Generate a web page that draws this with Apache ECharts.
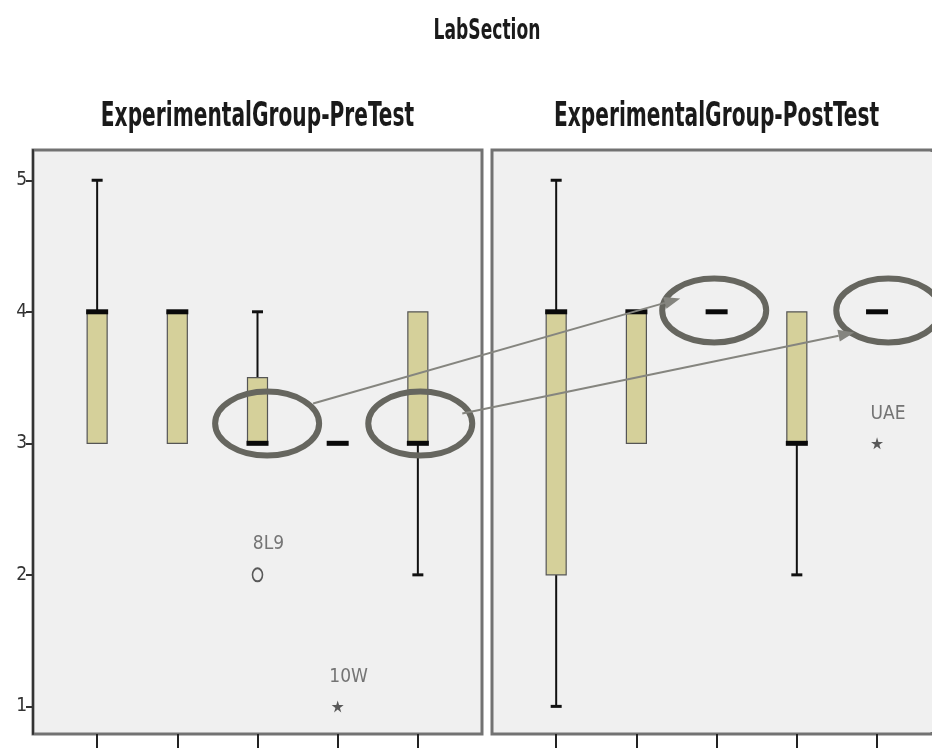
<!DOCTYPE html>
<html lang="en">
<head>
  <meta charset="UTF-8">
  <title>LabSection</title>
  <script src="https://cdn.jsdelivr.net/npm/echarts@6/dist/echarts.min.js"></script>
</head>
<body style="margin:0;background:#fff;">
<div id="chart" style="width:932px;height:748px;"></div>
<script>
  // data: [position, min, q1, median, q3, max]
  const mainTitle = 'LabSection';
  const panelTitles = ['ExperimentalGroup-PreTest', 'ExperimentalGroup-PostTest'];
  const yTicks = [1, 2, 3, 4, 5];
  const xSlots = [0, 1, 2, 3, 4];
  const preBoxes = [
    [0, 3, 3, 4, 4, 5],
    [1, 3, 3, 4, 4, 4],
    [2, 3, 3, 3, 3.5, 4],
    [3, 3, 3, 3, 3, 3],
    [4, 2, 3, 3, 4, 4]
  ];
  const postBoxes = [
    [0, 1, 2, 4, 4, 5],
    [1, 3, 3, 4, 4, 4],
    [2, 4, 4, 4, 4, 4],
    [3, 2, 3, 3, 4, 4],
    [4, 4, 4, 4, 4, 4]
  ];
  // outliers: [position, value, case label]
  const preMild = [[2, 2, '8L9']];
  const preExtreme = [[3, 1, '10W']];
  const postMild = [];
  const postExtreme = [[4, 3, 'UAE']];

  // annotation anchors (grid, x, y) - ellipses drawn around these
  const rings = [[0, 2.12, 3.15], [0, 4.03, 3.15], [1, 1.97, 4.01], [1, 4.14, 4.01]];

  const narrow = '"Liberation Sans Narrow", "DejaVu Sans Condensed", sans-serif';
  const starPath = 'path://M50,0 L61,35 L98,35 L68,57 L79,91 L50,70 L21,91 L32,57 L2,35 L39,35 Z';

  let chart = echarts.init(document.getElementById('chart'));

  function renderBox(params, api) {
    const x = api.value(0);
    const mn = api.value(1), q1 = api.value(2), md = api.value(3), q3 = api.value(4), mx = api.value(5);
    const pMin = api.coord([x, mn]), pQ1 = api.coord([x, q1]), pMd = api.coord([x, md]);
    const pQ3 = api.coord([x, q3]), pMax = api.coord([x, mx]);
    const cx = pMd[0];
    const bw = 20, cap = 11;
    const kids = [];
    if (mx > q3) {
      kids.push({type: 'line', shape: {x1: cx, y1: pMax[1], x2: cx, y2: pQ3[1]}, style: {stroke: '#111', lineWidth: 2}});
      kids.push({type: 'rect', shape: {x: cx - cap / 2, y: pMax[1] - 1.5, width: cap, height: 3}, style: {fill: '#111'}});
    }
    if (mn < q1) {
      kids.push({type: 'line', shape: {x1: cx, y1: pQ1[1], x2: cx, y2: pMin[1]}, style: {stroke: '#111', lineWidth: 2}});
      kids.push({type: 'rect', shape: {x: cx - cap / 2, y: pMin[1] - 1.5, width: cap, height: 3}, style: {fill: '#111'}});
    }
    if (q3 > q1) {
      kids.push({type: 'rect', shape: {x: cx - bw / 2, y: pQ3[1], width: bw, height: pQ1[1] - pQ3[1]},
        style: {fill: '#d5d09a', stroke: '#555', lineWidth: 1.2}});
    }
    kids.push({type: 'rect', shape: {x: cx - bw / 2 - 1, y: pMd[1] - 2.5, width: bw + 2, height: 5}, style: {fill: '#0a0a0a'}});
    return {type: 'group', children: kids};
  }

  function outlierSeries(grid, data, isStar) {
    return {
      type: 'scatter',
      xAxisIndex: grid, yAxisIndex: grid,
      data: data.map(d => ({value: [d[0], d[1]], name: d[2]})),
      symbol: isStar ? starPath : 'circle',
      symbolSize: isStar ? 12 : [10, 13],
      itemStyle: isStar ? {color: '#333'} : {color: 'rgba(0,0,0,0)', borderColor: '#333', borderWidth: 1.8},
      label: {
        show: true, position: 'top', distance: 8, offset: [11, -6],
        formatter: p => p.name,
        fontFamily: narrow, fontSize: 19, color: '#555'
      },
      z: 5
    };
  }

  // second panel runs past the right edge of the picture
  const panels = [
    {left: 33, width: 449, xMin: -0.8, xMax: 4.8},
    {left: 492, width: 440, xMin: -0.8, xMax: 4.685}
  ];
  let option = {
    animation: false,
    backgroundColor: '#fff',
    grid: panels.map(p => ({
      left: p.left, top: 150, width: p.width, height: 584,
      show: true, backgroundColor: '#f0f0f0', borderColor: '#727272', borderWidth: 3
    })),
    xAxis: panels.map((p, i) => ({
      type: 'value', gridIndex: i, min: p.xMin, max: p.xMax,
      splitLine: {show: false},
      axisLine: {show: false},
      axisTick: {show: true, customValues: xSlots, length: 14, inside: false, lineStyle: {color: '#222', width: 2}},
      axisLabel: {show: false}
    })),
    yAxis: panels.map((p, i) => ({
      type: 'value', gridIndex: i, min: 0.79, max: 5.23,
      splitLine: {show: false},
      axisLine: {show: i === 0, onZero: false, lineStyle: {color: '#333', width: 2}},
      axisTick: {show: i === 0, customValues: yTicks, length: 7, lineStyle: {color: '#333', width: 2}},
      axisLabel: {show: i === 0, customValues: yTicks, margin: 6, fontFamily: narrow, fontSize: 19, color: '#333'}
    })),
    series: [
      {type: 'custom', xAxisIndex: 0, yAxisIndex: 0, renderItem: renderBox, data: preBoxes, z: 3},
      {type: 'custom', xAxisIndex: 1, yAxisIndex: 1, renderItem: renderBox, data: postBoxes, z: 3},
      outlierSeries(0, preMild, false),
      outlierSeries(0, preExtreme, true),
      outlierSeries(1, postMild, false),
      outlierSeries(1, postExtreme, true)
    ]
  };
  chart.setOption(option);

  // titles as condensed text, centred over the panels
  function heading(text, x, y, size) {
    return {
      type: 'text', x: x, y: y, scaleX: 0.68, z: 100,
      style: {text: text, fontFamily: narrow, fontWeight: 'bold', fontSize: size, fill: '#1a1a1a',
        align: 'center', verticalAlign: 'middle'}
    };
  }
  const mid0 = chart.convertToPixel({gridIndex: 0}, [2, 5])[0];
  const mid1 = chart.convertToPixel({gridIndex: 1}, [2, 5])[0];
  let shapes = [
    heading(mainTitle, 487, 32, 28),
    heading(panelTitles[0], mid0, 117, 33),
    heading(panelTitles[1], mid1, 117, 33),
    // hide the clipped right border of the second panel
    {type: 'rect', shape: {x: 928, y: 152, width: 4, height: 580}, style: {fill: '#f0f0f0'}, z: 50}
  ];

  // annotation ellipses and arrows, placed from data coordinates
  const centers = rings.map(r => chart.convertToPixel({gridIndex: r[0]}, [r[1], r[2]]));
  const ringStyle = {fill: 'none', stroke: '#66665f', lineWidth: 6};
  shapes = shapes.concat(centers.map(c => ({
    type: 'ellipse', shape: {cx: c[0], cy: c[1], rx: 52, ry: 32}, style: ringStyle, z: 100
  })));
  function arrow(a, b) {
    const ang = Math.atan2(b[1] - a[1], b[0] - a[0]);
    const len = 16, half = 6;
    const bx = b[0] - len * Math.cos(ang), by = b[1] - len * Math.sin(ang);
    const nx = -Math.sin(ang) * half, ny = Math.cos(ang) * half;
    return [
      {type: 'line', shape: {x1: a[0], y1: a[1], x2: bx, y2: by}, style: {stroke: '#85857f', lineWidth: 2}, z: 100},
      {type: 'polygon', shape: {points: [[b[0], b[1]], [bx + nx, by + ny], [bx - nx, by - ny]]}, style: {fill: '#85857f'}, z: 100}
    ];
  }
  const c = centers;
  shapes = shapes.concat(
    arrow([c[0][0] + 46, c[0][1] - 20], [c[2][0] - 34, c[2][1] - 12]),
    arrow([c[1][0] + 42, c[1][1] - 10], [c[3][0] - 34, c[3][1] + 22])
  );
  chart.setOption({graphic: shapes});
</script>
</body>
</html>
